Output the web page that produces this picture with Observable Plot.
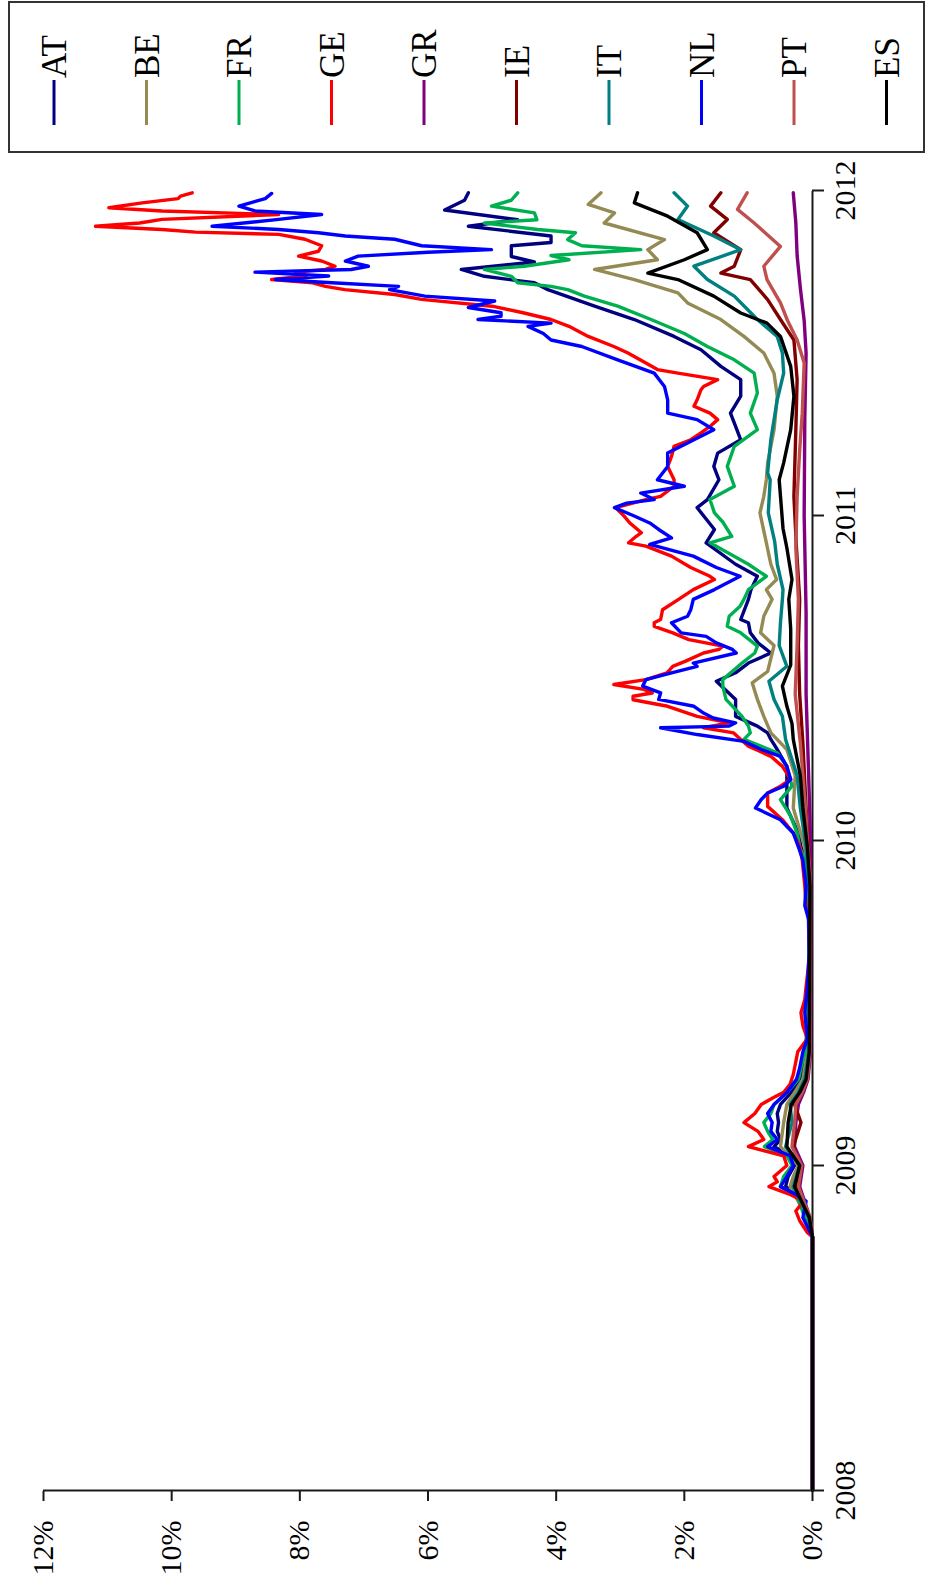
<!DOCTYPE html>
<html>
<head>
<meta charset="utf-8">
<script src="https://cdn.jsdelivr.net/npm/d3@7"></script>
<script src="https://cdn.jsdelivr.net/npm/@observablehq/plot@0.6"></script>
<style>
  html, body { margin: 0; padding: 0; background: white; }
  #wrap { position: relative; width: 934px; height: 1594px; overflow: hidden; background: white; }
  #rot { position: absolute; left: 0; top: 0; width: 1594px; height: 934px;
         transform-origin: 0 0; transform: translateY(1594px) rotate(-90deg); }
  #rot svg { display: block; }
</style>
</head>
<body>
<div id="wrap"><div id="rot"></div></div>
<script>
// ---- data: [decimal year, percent] ----
const years = [2008, 2009, 2010, 2011, 2012];
const pctTicks = [0, 2, 4, 6, 8, 10, 12];
const countries = ["AT", "BE", "FR", "GE", "GR", "IE", "IT", "NL", "PT", "ES"];
const colors = ["#000080", "#948A54", "#00B050", "#FF0000", "#800080", "#800000", "#008080", "#0000FF", "#C0504D", "#000000"];

const AT = [[2008,0],[2008.78,0],[2008.8,0.04],[2008.84,0.1],[2008.91,0.2],[2008.935,0.42],[2008.966,0.38],[2009.0,0.28],[2009.03,0.33],[2009.058,0.6],[2009.08,0.5],[2009.105,0.55],[2009.132,0.53],[2009.16,0.55],[2009.188,0.5],[2009.225,0.33],[2009.265,0.2],[2009.3,0.15],[2009.35,0.1],[2009.43,0.07],[2009.6,0.05],[2009.86,0.07],[2009.94,0.1],[2009.98,0.18],[2010.023,0.22],[2010.1,0.4],[2010.167,0.4],[2010.228,0.4],[2010.28,0.55],[2010.311,0.65],[2010.331,0.7],[2010.352,0.86],[2010.382,1.2],[2010.434,1.2],[2010.49,1.5],[2010.516,1.2],[2010.546,1.0],[2010.577,0.65],[2010.608,0.85],[2010.639,0.97],[2010.67,1.0],[2010.68,1.12],[2010.742,1.0],[2010.772,0.96],[2010.813,0.86],[2010.85,1.2],[2010.916,1.66],[2010.957,1.53],[2011.024,1.8],[2011.049,1.64],[2011.11,1.46],[2011.151,1.54],[2011.192,1.48],[2011.233,1.12],[2011.274,1.2],[2011.315,1.28],[2011.367,1.12],[2011.418,1.12],[2011.459,1.43],[2011.51,1.74],[2011.551,2.16],[2011.603,2.78],[2011.644,3.4],[2011.695,4.13],[2011.716,4.34],[2011.736,5.12],[2011.757,5.48],[2011.78,4.34],[2011.797,4.7],[2011.83,4.7],[2011.84,4.08],[2011.86,4.08],[2011.89,5.37],[2011.91,4.6],[2011.94,5.74],[2011.97,5.43],[2011.993,5.37]];

const BE = [[2008,0],[2008.78,0],[2008.84,0.08],[2008.935,0.35],[2008.966,0.3],[2009.0,0.22],[2009.058,0.5],[2009.132,0.45],[2009.188,0.4],[2009.225,0.28],[2009.265,0.15],[2009.35,0.08],[2009.5,0.05],[2009.86,0.06],[2009.98,0.12],[2010.1,0.3],[2010.2,0.27],[2010.28,0.4],[2010.331,0.65],[2010.382,0.76],[2010.434,0.86],[2010.485,0.94],[2010.52,0.7],[2010.6,0.6],[2010.639,0.81],[2010.69,0.76],[2010.742,0.63],[2010.772,0.72],[2010.803,0.56],[2010.85,0.65],[2010.916,0.72],[2011.008,0.82],[2011.059,0.76],[2011.11,0.72],[2011.162,0.7],[2011.264,0.6],[2011.367,0.55],[2011.438,0.6],[2011.5,0.76],[2011.551,1.07],[2011.603,1.43],[2011.654,1.95],[2011.685,2.1],[2011.726,2.78],[2011.757,3.4],[2011.787,2.42],[2011.818,2.57],[2011.849,2.31],[2011.9,3.25],[2011.931,3.09],[2011.957,3.5],[2011.993,3.3]];

const FR = [[2008,0],[2008.78,0],[2008.8,0.05],[2008.84,0.12],[2008.91,0.25],[2008.935,0.5],[2008.966,0.45],[2009.0,0.32],[2009.03,0.4],[2009.058,0.75],[2009.08,0.62],[2009.105,0.7],[2009.132,0.76],[2009.16,0.65],[2009.188,0.6],[2009.225,0.4],[2009.265,0.22],[2009.3,0.18],[2009.35,0.12],[2009.43,0.08],[2009.55,0.06],[2009.757,0.05],[2009.86,0.08],[2009.94,0.12],[2009.98,0.2],[2010.023,0.24],[2010.075,0.34],[2010.126,0.5],[2010.167,0.32],[2010.228,0.4],[2010.27,0.55],[2010.311,1.07],[2010.331,0.97],[2010.352,1.0],[2010.382,1.1],[2010.434,1.35],[2010.475,1.4],[2010.495,1.4],[2010.546,1.1],[2010.577,0.9],[2010.598,0.86],[2010.639,1.12],[2010.659,1.33],[2010.69,1.3],[2010.721,1.13],[2010.742,1.07],[2010.772,1.0],[2010.813,0.72],[2010.85,1.0],[2010.916,1.6],[2010.936,1.26],[2010.98,1.4],[2011.008,1.53],[2011.049,1.6],[2011.09,1.22],[2011.151,1.33],[2011.213,1.22],[2011.264,0.86],[2011.315,0.97],[2011.377,0.86],[2011.438,0.91],[2011.479,1.22],[2011.52,1.64],[2011.56,2.0],[2011.603,2.52],[2011.644,3.04],[2011.675,3.56],[2011.695,3.82],[2011.705,4.08],[2011.716,4.6],[2011.736,4.7],[2011.757,5.12],[2011.767,4.5],[2011.787,3.8],[2011.8,4.08],[2011.818,2.68],[2011.83,3.6],[2011.849,3.82],[2011.87,3.7],[2011.88,4.29],[2011.9,5.12],[2011.91,4.3],[2011.931,4.34],[2011.952,5.01],[2011.97,4.7],[2011.993,4.6]];

const GE = [[2008,0],[2008.78,0],[2008.794,0.08],[2008.83,0.2],[2008.86,0.26],[2008.89,0.14],[2008.91,0.34],[2008.935,0.68],[2008.95,0.55],[2008.966,0.6],[2009.0,0.4],[2009.03,0.45],[2009.058,1.0],[2009.08,0.76],[2009.105,0.85],[2009.132,1.07],[2009.16,0.9],[2009.188,0.8],[2009.21,0.6],[2009.225,0.45],[2009.25,0.35],[2009.28,0.3],[2009.35,0.23],[2009.39,0.08],[2009.43,0.15],[2009.47,0.18],[2009.51,0.12],[2009.55,0.1],[2009.6,0.07],[2009.655,0.05],[2009.7,0.06],[2009.757,0.05],[2009.8,0.1],[2009.86,0.12],[2009.9,0.14],[2009.94,0.16],[2009.98,0.2],[2010.023,0.3],[2010.064,0.47],[2010.105,0.7],[2010.146,0.7],[2010.167,0.5],[2010.188,0.34],[2010.228,0.47],[2010.259,0.65],[2010.29,1.0],[2010.311,1.12],[2010.331,1.23],[2010.347,1.7],[2010.362,1.3],[2010.382,1.8],[2010.413,2.26],[2010.433,2.8],[2010.444,2.8],[2010.454,2.5],[2010.465,2.63],[2010.48,3.1],[2010.495,2.6],[2010.516,2.27],[2010.536,2.18],[2010.552,1.98],[2010.577,1.7],[2010.588,1.46],[2010.598,1.4],[2010.618,1.93],[2010.639,2.18],[2010.659,2.47],[2010.67,2.47],[2010.68,2.37],[2010.71,2.34],[2010.742,2.09],[2010.772,1.86],[2010.803,1.53],[2010.813,1.6],[2010.84,1.9],[2010.875,2.2],[2010.906,2.6],[2010.916,2.87],[2010.936,2.75],[2010.947,2.67],[2010.977,2.85],[2010.998,2.94],[2011.024,3.07],[2011.049,2.6],[2011.059,2.37],[2011.09,2.16],[2011.11,2.16],[2011.151,2.26],[2011.182,2.2],[2011.213,2.16],[2011.233,1.9],[2011.254,1.74],[2011.274,1.6],[2011.295,1.48],[2011.315,1.6],[2011.336,1.85],[2011.356,1.8],[2011.387,1.74],[2011.397,1.7],[2011.418,1.48],[2011.438,2.1],[2011.449,2.42],[2011.469,2.6],[2011.5,2.88],[2011.52,3.1],[2011.551,3.5],[2011.582,3.8],[2011.603,4.08],[2011.623,4.5],[2011.644,5.0],[2011.665,6.1],[2011.68,6.52],[2011.695,7.3],[2011.705,7.6],[2011.716,7.8],[2011.726,8.44],[2011.737,7.9],[2011.749,8.07],[2011.757,7.6],[2011.767,7.45],[2011.783,7.66],[2011.798,8.02],[2011.813,7.71],[2011.83,7.66],[2011.85,7.92],[2011.865,8.33],[2011.872,9.63],[2011.88,10.15],[2011.89,11.19],[2011.9,10.5],[2011.911,10.15],[2011.926,8.33],[2011.937,10.15],[2011.947,10.98],[2011.962,10.46],[2011.975,9.9],[2011.983,9.86],[2011.993,9.68]];

const GR = [[2008,0],[2008.78,0],[2008.84,0.04],[2008.935,0.2],[2009.0,0.15],[2009.058,0.28],[2009.132,0.26],[2009.188,0.22],[2009.225,0.14],[2009.265,0.07],[2009.35,0.03],[2010.0,0.03],[2010.2,0.06],[2010.45,0.1],[2010.7,0.1],[2011.0,0.13],[2011.3,0.12],[2011.5,0.1],[2011.6,0.13],[2011.7,0.19],[2011.8,0.24],[2011.9,0.26],[2011.993,0.3]];

const IE = [[2008,0],[2008.78,0],[2008.84,0.05],[2008.935,0.25],[2009.0,0.2],[2009.058,0.3],[2009.132,0.18],[2009.188,0.28],[2009.225,0.2],[2009.265,0.1],[2009.35,0.05],[2009.9,0.04],[2010.0,0.07],[2010.1,0.1],[2010.3,0.15],[2010.45,0.2],[2010.6,0.22],[2010.742,0.2],[2010.9,0.25],[2011.059,0.29],[2011.264,0.26],[2011.418,0.24],[2011.54,0.29],[2011.603,0.5],[2011.664,0.7],[2011.726,0.97],[2011.746,1.43],[2011.767,1.22],[2011.818,1.12],[2011.87,1.54],[2011.911,1.33],[2011.952,1.59],[2011.993,1.43]];

const IT = [[2008,0],[2008.78,0],[2008.84,0.06],[2008.935,0.3],[2009.0,0.2],[2009.058,0.42],[2009.132,0.32],[2009.188,0.35],[2009.225,0.22],[2009.265,0.12],[2009.35,0.06],[2009.86,0.05],[2009.98,0.1],[2010.1,0.19],[2010.2,0.24],[2010.311,0.42],[2010.382,0.47],[2010.434,0.6],[2010.49,0.68],[2010.536,0.4],[2010.6,0.52],[2010.67,0.5],[2010.742,0.47],[2010.772,0.46],[2010.85,0.55],[2010.92,0.59],[2011.008,0.69],[2011.11,0.66],[2011.131,0.7],[2011.233,0.65],[2011.356,0.55],[2011.438,0.45],[2011.5,0.47],[2011.551,0.55],[2011.603,0.86],[2011.675,1.22],[2011.726,1.64],[2011.767,1.85],[2011.818,1.12],[2011.86,1.54],[2011.911,2.1],[2011.952,1.95],[2011.993,2.16]];

const NL = [[2008,0],[2008.78,0],[2008.8,0.05],[2008.84,0.15],[2008.89,0.1],[2008.91,0.25],[2008.935,0.5],[2008.966,0.4],[2009.0,0.3],[2009.03,0.35],[2009.058,0.7],[2009.08,0.55],[2009.105,0.65],[2009.132,0.63],[2009.16,0.7],[2009.188,0.6],[2009.225,0.4],[2009.265,0.25],[2009.3,0.2],[2009.35,0.15],[2009.39,0.08],[2009.43,0.1],[2009.47,0.12],[2009.55,0.08],[2009.655,0.05],[2009.757,0.06],[2009.8,0.12],[2009.86,0.1],[2009.94,0.15],[2009.98,0.22],[2010.023,0.3],[2010.064,0.5],[2010.1,0.89],[2010.126,0.8],[2010.146,0.7],[2010.167,0.45],[2010.188,0.34],[2010.228,0.4],[2010.259,0.5],[2010.28,0.8],[2010.305,1.07],[2010.326,1.8],[2010.347,2.37],[2010.352,1.3],[2010.362,1.2],[2010.377,1.55],[2010.392,1.7],[2010.413,1.85],[2010.434,2.4],[2010.454,2.37],[2010.475,2.65],[2010.495,2.6],[2010.516,2.2],[2010.536,1.8],[2010.546,1.86],[2010.577,1.19],[2010.588,1.25],[2010.608,1.5],[2010.628,1.66],[2010.639,2.05],[2010.67,2.2],[2010.69,1.95],[2010.71,1.9],[2010.742,1.86],[2010.772,1.53],[2010.813,1.13],[2010.84,1.5],[2010.875,1.86],[2010.911,2.54],[2010.931,2.2],[2010.957,2.4],[2010.977,2.54],[2011.0,2.8],[2011.024,3.09],[2011.038,2.9],[2011.049,2.47],[2011.069,2.68],[2011.09,2.0],[2011.11,2.42],[2011.151,2.26],[2011.192,2.26],[2011.233,1.85],[2011.264,1.54],[2011.295,1.8],[2011.315,2.26],[2011.356,2.26],[2011.397,2.31],[2011.438,2.47],[2011.479,3.04],[2011.52,3.6],[2011.54,4.08],[2011.56,4.2],[2011.582,4.44],[2011.592,4.08],[2011.603,5.22],[2011.613,4.86],[2011.624,4.86],[2011.64,5.37],[2011.66,4.96],[2011.675,6.05],[2011.695,6.6],[2011.705,6.46],[2011.716,7.5],[2011.726,8.38],[2011.737,7.55],[2011.749,8.7],[2011.757,7.2],[2011.767,6.93],[2011.783,7.29],[2011.798,7.09],[2011.81,6.0],[2011.818,5.01],[2011.83,6.1],[2011.85,6.52],[2011.86,7.29],[2011.87,7.71],[2011.88,8.33],[2011.89,9.37],[2011.911,8.33],[2011.926,7.66],[2011.937,8.7],[2011.952,8.95],[2011.975,8.54],[2011.991,8.44]];

const PT = [[2008,0],[2008.78,0],[2008.84,0.04],[2008.935,0.22],[2009.0,0.17],[2009.058,0.32],[2009.132,0.28],[2009.188,0.26],[2009.225,0.16],[2009.265,0.08],[2009.35,0.04],[2009.9,0.04],[2010.0,0.08],[2010.1,0.11],[2010.3,0.19],[2010.45,0.27],[2010.6,0.24],[2010.742,0.22],[2010.9,0.26],[2011.059,0.24],[2011.2,0.2],[2011.315,0.16],[2011.469,0.13],[2011.54,0.24],[2011.6,0.39],[2011.654,0.5],[2011.726,0.71],[2011.767,0.76],[2011.828,0.5],[2011.9,0.91],[2011.942,1.17],[2011.993,1.02]];

const ES = [[2008,0],[2008.78,0],[2008.84,0.05],[2008.935,0.28],[2009.0,0.2],[2009.058,0.4],[2009.132,0.38],[2009.188,0.33],[2009.225,0.2],[2009.265,0.1],[2009.35,0.05],[2009.86,0.04],[2009.98,0.08],[2010.1,0.15],[2010.2,0.19],[2010.311,0.3],[2010.36,0.32],[2010.413,0.4],[2010.475,0.47],[2010.54,0.34],[2010.65,0.34],[2010.742,0.37],[2010.803,0.32],[2010.9,0.4],[2010.96,0.46],[2011.11,0.52],[2011.162,0.45],[2011.264,0.34],[2011.367,0.29],[2011.459,0.34],[2011.551,0.5],[2011.592,0.71],[2011.623,1.12],[2011.675,1.54],[2011.726,2.1],[2011.746,2.57],[2011.787,2.0],[2011.818,1.64],[2011.87,1.8],[2011.921,2.26],[2011.962,2.78],[2011.993,2.73]];

const seriesList = [AT, BE, FR, GE, GR, IE, IT, NL, PT, ES];

// ---- chart (drawn unrotated, then the container is turned 90° counter-clockwise) ----
const FONT = "'Liberation Serif', 'Times New Roman', Times, serif";
const rows = seriesList.map((s, i) => s.map(([t, v]) => ({t, v, country: countries[i]})));

const chart = Plot.plot({
  width: 1594,
  height: 934,
  marginLeft: 103,
  marginRight: 191,
  marginTop: 43,
  marginBottom: 122,
  style: {fontFamily: FONT, fontSize: "30px", color: "black", background: "white"},
  x: {type: "linear", domain: [2008, 2012]},
  y: {type: "linear", domain: [0, 12]},
  marks: [
    Plot.ruleY([0], {stroke: "#1a1a1a", strokeWidth: 2}),
    Plot.ruleX([2008], {stroke: "#1a1a1a", strokeWidth: 2}),
    ...rows.map((r, i) => Plot.line(r, {x: "t", y: "v", stroke: colors[i], strokeWidth: 3.4, strokeLinejoin: "round", strokeLinecap: "round"})),
    Plot.axisX({ticks: years, tickFormat: d => String(d), tickSize: 12, tickPadding: 9, strokeWidth: 2, stroke: "#1a1a1a", fontSize: 30, fontFamily: FONT, fill: "black", label: null}),
    Plot.axisY({ticks: pctTicks, tickFormat: d => d + "%", tickSize: 10, tickPadding: 20, strokeWidth: 2, stroke: "#1a1a1a", fontSize: 30, fontFamily: FONT, fill: "black", label: null})
  ]
});

// force the serif face on every label Plot produced
d3.select(chart).attr("font-family", FONT).style("font-family", FONT);
d3.select(chart).selectAll("g").filter(function() { return this.getAttribute("font-family"); })
  .attr("font-family", FONT).style("font-family", FONT);
d3.select(chart).selectAll("text")
  .attr("font-family", FONT).style("font-family", FONT).style("font-variant", "normal");

const rot = document.getElementById("rot");
rot.appendChild(chart);

// ---- legend (box at the right of the unrotated chart) ----
const lg = d3.select(rot).append("svg")
  .attr("width", 152).attr("height", 917)
  .style("position", "absolute").style("left", "1441px").style("top", "8px");
lg.append("rect").attr("x", 1).attr("y", 1).attr("width", 150).attr("height", 915)
  .attr("fill", "white").attr("stroke", "#333").attr("stroke-width", 2);
countries.forEach((c, i) => {
  const cy = 46 + 92.5 * i;
  lg.append("line").attr("x1", 28).attr("x2", 73).attr("y1", cy).attr("y2", cy)
    .attr("stroke", colors[i]).attr("stroke-width", 3);
  lg.append("text").attr("x", 75).attr("y", cy + 12)
    .attr("font-family", FONT).attr("font-size", 35).attr("fill", "black").text(c);
});
</script>
</body>
</html>
